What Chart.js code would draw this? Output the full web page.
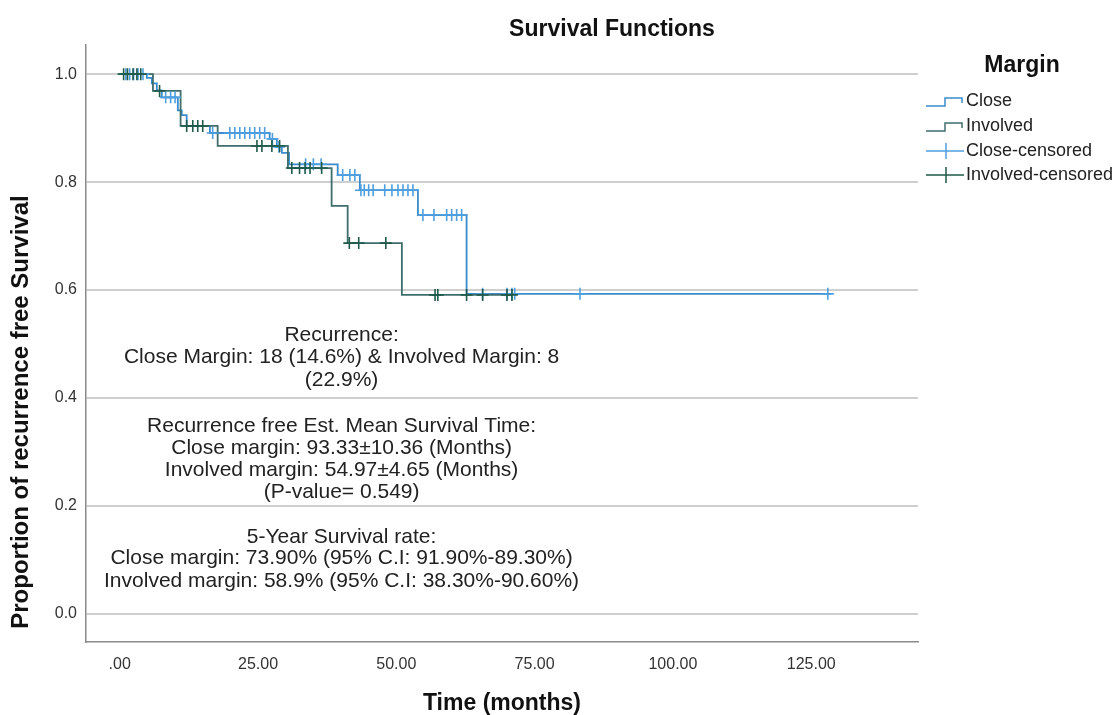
<!DOCTYPE html>
<html>
<head>
<meta charset="utf-8">
<script src="https://cdn.jsdelivr.net/npm/chart.js@4.4.1/dist/chart.umd.min.js"></script>
<style>
  html, body { margin: 0; padding: 0; background: #ffffff; }
  #wrap { width: 1119px; height: 715px; }
</style>
</head>
<body>
<div id="wrap"><canvas id="c" width="1119" height="715"></canvas></div>
<script>
// ---- Data ----
const closeTimes = [0, 4.9, 5.8, 6.7, 7.6, 10.5, 11.2, 12.1, 16.3, 27.1, 28.4, 29.3, 30.6, 39.4, 43.4, 53.9, 62.7, 128.5];
const closeSurv  = [1.0, 0.993, 0.983, 0.970, 0.957, 0.933, 0.924, 0.904, 0.891, 0.880, 0.865, 0.854, 0.833, 0.813, 0.785, 0.739, 0.593, 0.593];

const involvedTimes = [0, 6.0, 11.0, 17.7, 30.4, 38.3, 41.2, 51.0, 71.0];
const involvedSurv  = [1.0, 0.969, 0.904, 0.867, 0.826, 0.756, 0.687, 0.591, 0.591];

const closeCensTimes = [1.1, 1.8, 2.5, 3.3, 4.2, 8.3, 9.2, 10.0, 16.8, 19.9, 20.8, 21.7, 22.6, 23.5, 24.4, 25.3, 26.2,
  27.6, 28.8, 33.6, 35.0, 36.4, 40.3, 41.6, 42.5, 43.6, 44.2, 45.0, 45.8, 47.9, 49.2, 50.3, 51.2, 52.1, 53.0,
  54.8, 56.8, 59.1, 60.0, 60.9, 61.8, 65.6, 70.0, 70.9, 71.4, 83.2, 128.0];
const closeCensSurv = [1, 1, 1, 1, 1, 0.957, 0.957, 0.957, 0.891, 0.891, 0.891, 0.891, 0.891, 0.891, 0.891, 0.891, 0.891,
  0.880, 0.865, 0.833, 0.833, 0.833, 0.813, 0.813, 0.813, 0.785, 0.785, 0.785, 0.785, 0.785, 0.785, 0.785, 0.785, 0.785, 0.785,
  0.739, 0.739, 0.739, 0.739, 0.739, 0.739, 0.593, 0.593, 0.593, 0.593, 0.593, 0.593];

const involvedCensTimes = [0.7, 1.4, 2.4, 3.1, 3.8, 7.2, 12.1, 13.2, 14.1, 15.0, 24.8, 25.7, 27.5, 28.9,
  31.1, 32.5, 33.5, 34.4, 36.5, 41.5, 43.2, 48.1, 57.0, 57.5, 62.7, 65.6, 70.0, 70.9];
const involvedCensSurv = [1, 1, 1, 1, 1, 0.969, 0.904, 0.904, 0.904, 0.904, 0.867, 0.867, 0.867, 0.867,
  0.826, 0.826, 0.826, 0.826, 0.826, 0.687, 0.687, 0.687, 0.591, 0.591, 0.591, 0.591, 0.591, 0.591];

const xTickValues = [0, 25, 50, 75, 100, 125];
const yTickValues = [0, 0.2, 0.4, 0.6, 0.8, 1.0];

const seriesLabels = ['Close', 'Involved', 'Close-censored', 'Involved-censored'];

const annotationLines = [
  'Recurrence:',
  'Close Margin: 18 (14.6%) & Involved Margin: 8',
  '(22.9%)',
  'Recurrence free Est. Mean Survival Time:',
  'Close margin: 93.33\u00B110.36 (Months)',
  'Involved margin: 54.97\u00B14.65 (Months)',
  '(P-value= 0.549)',
  '5-Year Survival rate:',
  'Close margin: 73.90% (95% C.I: 91.90%-89.30%)',
  'Involved margin: 58.9% (95% C.I: 38.30%-90.60%)'
];

// ---- styling ----
const COL_CLOSE = '#3a8ccc';
const COL_INV = '#3f6e6c';
const COL_CLOSE_C = '#4f9fe0';
const COL_INV_C = '#1f5a4a';
const FONT = '"Liberation Sans", Arial, sans-serif';

function pts(xs, ys) { return xs.map((x, i) => ({ x: x, y: ys[i] })); }

const textPlugin = {
  id: 'texts',
  afterDraw(chart) {
    const ctx = chart.ctx;
    const xs = chart.scales.x, ys = chart.scales.y;
    ctx.save();
    ctx.fillStyle = '#111';
    ctx.textAlign = 'center';
    ctx.textBaseline = 'middle';
    // title
    ctx.font = 'bold 23px ' + FONT;
    ctx.fillText('Survival Functions', 612, 30);
    // x title
    ctx.fillText('Time (months)', (chart.chartArea.left + chart.chartArea.right) / 2, 704);
    // y title
    ctx.save();
    ctx.translate(21, 412);
    ctx.rotate(-Math.PI / 2);
    ctx.font = 'bold 24px ' + FONT;
    ctx.fillText('Proportion of recurrence free Survival', 0, 0);
    ctx.restore();

    // annotation block (anchored to data coordinates)
    const anchorsS = [0.517, 0.476, 0.433, 0.348, 0.307, 0.267, 0.226, 0.143, 0.104, 0.061];
    ctx.font = '21px ' + FONT;
    ctx.fillStyle = '#222';
    const cx = xs.getPixelForValue(40.1);
    annotationLines.forEach((t, i) => {
      ctx.fillText(t, cx, ys.getPixelForValue(anchorsS[i]));
    });

    // legend
    ctx.font = 'bold 23px ' + FONT;
    ctx.fillStyle = '#111';
    ctx.fillText('Margin', 1022, 66);
    ctx.font = '18px ' + FONT;
    ctx.textAlign = 'left';
    ctx.fillStyle = '#222';
    const ly = [101, 126, 151, 175];
    const cols = [COL_CLOSE, COL_INV, COL_CLOSE_C, COL_INV_C];
    ly.forEach((y, i) => {
      ctx.strokeStyle = cols[i];
      ctx.lineWidth = 1.5;
      ctx.beginPath();
      if (i < 2) {
        ctx.moveTo(926, y + 5);
        ctx.lineTo(945, y + 5);
        ctx.lineTo(945, y - 3);
        ctx.lineTo(962, y - 3);
        ctx.lineTo(962, y + 2);
      } else {
        ctx.moveTo(926, y);
        ctx.lineTo(964, y);
        ctx.moveTo(946, y - 8);
        ctx.lineTo(946, y + 8);
      }
      ctx.stroke();
      ctx.fillText(seriesLabels[i], 966, y);
    });
    ctx.restore();
  }
};

new Chart(document.getElementById('c'), {
  type: 'scatter',
  data: {
    datasets: [
      { label: seriesLabels[0], type: 'line', data: pts(closeTimes, closeSurv), stepped: 'before',
        borderColor: COL_CLOSE, borderWidth: 1.8, pointRadius: 0, fill: false, order: 3 },
      { label: seriesLabels[1], type: 'line', data: pts(involvedTimes, involvedSurv), stepped: 'before',
        borderColor: COL_INV, borderWidth: 1.8, pointRadius: 0, fill: false, order: 2 },
      { label: seriesLabels[2], data: pts(closeCensTimes, closeCensSurv), pointStyle: 'cross',
        pointRadius: 6, borderColor: COL_CLOSE_C, pointBorderWidth: 1.6, order: 1 },
      { label: seriesLabels[3], data: pts(involvedCensTimes, involvedCensSurv), pointStyle: 'cross',
        pointRadius: 6, borderColor: COL_INV_C, pointBorderWidth: 1.6, order: 0 }
    ]
  },
  options: {
    responsive: false,
    animation: false,
    layout: { padding: { left: 0, right: 201, top: 45, bottom: 0 } },
    plugins: { legend: { display: false }, tooltip: { enabled: false }, title: { display: false } },
    scales: {
      x: {
        type: 'linear', min: -6.1, max: 144.3,
        afterBuildTicks: s => { s.ticks = xTickValues.map(v => ({ value: v })); },
        afterFit: s => { s.height = 73; },
        grid: { display: false, drawTicks: false },
        border: { display: true, color: '#8a8a8a', width: 1.5 },
        ticks: { padding: 13, color: '#333', font: { family: FONT, size: 16 },
          callback: v => (v === 0 ? '.00' : Number(v).toFixed(2)) }
      },
      y: {
        type: 'linear', min: -0.052, max: 1.054,
        afterBuildTicks: s => { s.ticks = yTickValues.map(v => ({ value: v })); },
        afterFit: s => { s.width = 86; },
        grid: { color: '#cfcfcf', lineWidth: 2, drawTicks: false },
        border: { display: true, color: '#8a8a8a', width: 1.5 },
        ticks: { padding: 9, color: '#333', font: { family: FONT, size: 16 },
          callback: v => Number(v).toFixed(1) }
      }
    }
  },
  plugins: [textPlugin]
});
</script>
</body>
</html>
